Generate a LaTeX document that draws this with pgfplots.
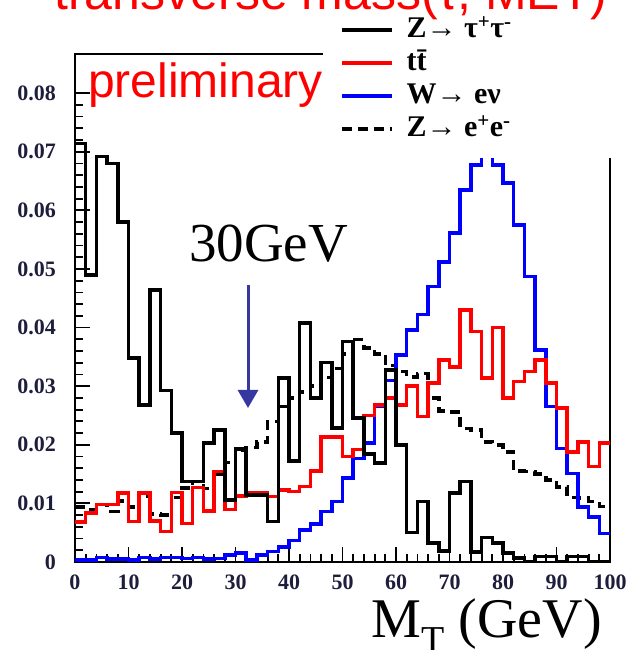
\documentclass[border=0pt]{standalone}
\usepackage{fontspec}
\setmainfont{Liberation Serif}
\setsansfont{Liberation Sans}
\usepackage{pgfplots}
\pgfplotsset{compat=1.18}
\usepackage{pgfplotstable}
\usetikzlibrary{arrows.meta}
\definecolor{tl}{RGB}{30,30,60}
\definecolor{arrowc}{RGB}{55,55,160}

\pgfplotstableread{
x tau tt w zee
0 0.0714 0.0068 0.0003 0.0094
2 0.0490 0.0084 0.0003 0.0090
4 0.0692 0.0098 0.0008 0.0098
6 0.0680 0.0098 0.0005 0.0086
8 0.0580 0.0118 0.0005 0.0104
10 0.0348 0.0069 0.0003 0.0094
12 0.0268 0.0118 0.0008 0.0112
14 0.0464 0.0070 0.0005 0.0082
16 0.0293 0.0052 0.0008 0.0080
18 0.0220 0.0119 0.0008 0.0110
20 0.0137 0.0066 0.0006 0.0126
22 0.0137 0.0127 0.0008 0.0137
24 0.0203 0.0087 0.0005 0.0125
26 0.0225 0.0154 0.0006 0.0150
28 0.0106 0.0090 0.0012 0.0170
30 0.0193 0.0113 0.0015 0.0190
32 0.0114 0.0118 0.0003 0.0195
34 0.0114 0.0118 0.0012 0.0205
36 0.0069 0.0112 0.0018 0.0240
38 0.0314 0.0123 0.0026 0.0265
40 0.0172 0.0120 0.0037 0.0280
42 0.0408 0.0129 0.0055 0.0290
44 0.0280 0.0155 0.0065 0.0300
46 0.0340 0.0213 0.0086 0.0315
48 0.0229 0.0213 0.0103 0.0330
50 0.0376 0.0180 0.0143 0.0355
52 0.0246 0.0192 0.0177 0.0380
54 0.0184 0.0250 0.0203 0.0365
56 0.0169 0.0268 0.0265 0.0355
58 0.0328 0.0280 0.0310 0.0335
60 0.0200 0.0268 0.0353 0.0325
62 0.0050 0.0300 0.0396 0.0316
64 0.0103 0.0248 0.0422 0.0322
66 0.0032 0.0305 0.0470 0.0280
68 0.0019 0.0345 0.0512 0.0258
70 0.0118 0.0333 0.0561 0.0256
72 0.0137 0.0430 0.0635 0.0228
74 0.0017 0.0393 0.0677 0.0225
76 0.0042 0.0314 0.0705 0.0205
78 0.0032 0.0400 0.0677 0.0200
80 0.0015 0.0280 0.0647 0.0188
82 0.0007 0.0308 0.0575 0.0155
84 0.0000 0.0325 0.0487 0.0154
86 0.0009 0.0345 0.0362 0.0150
88 0.0009 0.0305 0.0265 0.0140
90 0.0000 0.0263 0.0194 0.0128
92 0.0009 0.0188 0.0151 0.0110
94 0.0009 0.0205 0.0094 0.0109
96 0.0000 0.0163 0.0077 0.0103
98 0.0000 0.0203 0.0049 0.0095
100 0.0000 0.0203 0.0049 0.0095
}\mtdata

\begin{document}
\begin{tikzpicture}[x=1pt,y=1pt]
\begin{axis}[
  at={(75pt,88pt)}, anchor=south west,
  scale only axis, width=535pt, height=508pt,
  xmin=0, xmax=100, ymin=0, ymax=0.08668,
  axis line style={line width=1.8pt, black},
  tick pos=left, tick align=inside,
  xtick={0,10,...,100},
  ytick={0,0.01,...,0.08},
  minor x tick num=4, minor y tick num=4,
  major tick length=15pt, minor tick length=8pt,
  every tick/.style={line width=1.8pt, black},
  scaled y ticks=false,
  ticklabel style={font=\fontsize{22}{22}\selectfont\bfseries, text=tl, inner sep=0pt},
  xticklabel style={yshift=-13pt, /pgf/number format/assume math mode=true},
  yticklabel style={xshift=-19pt, /pgf/number format/.cd, fixed, precision=2, assume math mode=true},
  xlabel={M\raisebox{-15pt}{\fontsize{38}{38}\selectfont T} (GeV)},
  xlabel style={font=\fontsize{56}{56}\selectfont, at={(axis description cs:0.985,0)}, anchor=base east, yshift=-75pt, inner sep=0pt},
]
\addplot[const plot, black, line width=3.5pt, dash pattern=on 10pt off 6pt] table[x=x, y=zee] {\mtdata};
\addplot[const plot, blue, line width=3.5pt] table[x=x, y=w] {\mtdata};
\addplot[const plot, red, line width=3.5pt] table[x=x, y=tt] {\mtdata};
\addplot[const plot, black, line width=3.5pt] table[x=x, y=tau] {\mtdata};
\end{axis}
\fill[white] (323,492) rectangle (660,680);
\begin{axis}[
  at={(75pt,88pt)}, anchor=south west,
  scale only axis, width=535pt, height=508pt,
  hide axis, xmin=0, xmax=1, ymin=0, ymax=1,
  legend image code/.code={\draw[#1] (0pt,0pt) -- (50pt,0pt);},
  legend cell align=left,
  legend style={at={(axis description cs:0.495,1.076)}, anchor=north west,
    draw=none, fill=none, inner sep=0pt, row sep=4pt,
    font=\fontsize{30}{30}\selectfont\bfseries,
    nodes={inner sep=0pt, text height=22pt, text depth=7pt},
    /tikz/every odd column/.append style={column sep=13pt}},
]
\addlegendimage{black, line width=3.5pt}
\addlegendentry{Z→ τ\textsuperscript{+}τ\textsuperscript{-}}
\addlegendimage{red, line width=3.5pt}
\addlegendentry{t\={t}}
\addlegendimage{blue, line width=3.5pt}
\addlegendentry{W→ eν}
\addlegendimage{black, line width=3.5pt, dash pattern=on 10pt off 6pt}
\addlegendentry{Z→ e\textsuperscript{+}e\textsuperscript{-}}
\end{axis}
\node[anchor=base west, inner sep=0pt, text=red, font=\sffamily\fontsize{48}{48}\selectfont] at (88,552) {preliminary};
\node[anchor=base, inner sep=0pt, text=red, font=\sffamily\fontsize{50}{50}\selectfont] at (331,640) {transverse mass(τ, MET)};
\node[anchor=base west, inner sep=0pt, font=\fontsize{55}{55}\selectfont] at (189,388) {30GeV};
\draw[arrowc, line width=3pt, -{Triangle[width=20pt,length=18pt]}] (248,365) -- (248,242);
\pgfresetboundingbox
\useasboundingbox (0,0) rectangle (629,650);
\end{tikzpicture}
\end{document}
